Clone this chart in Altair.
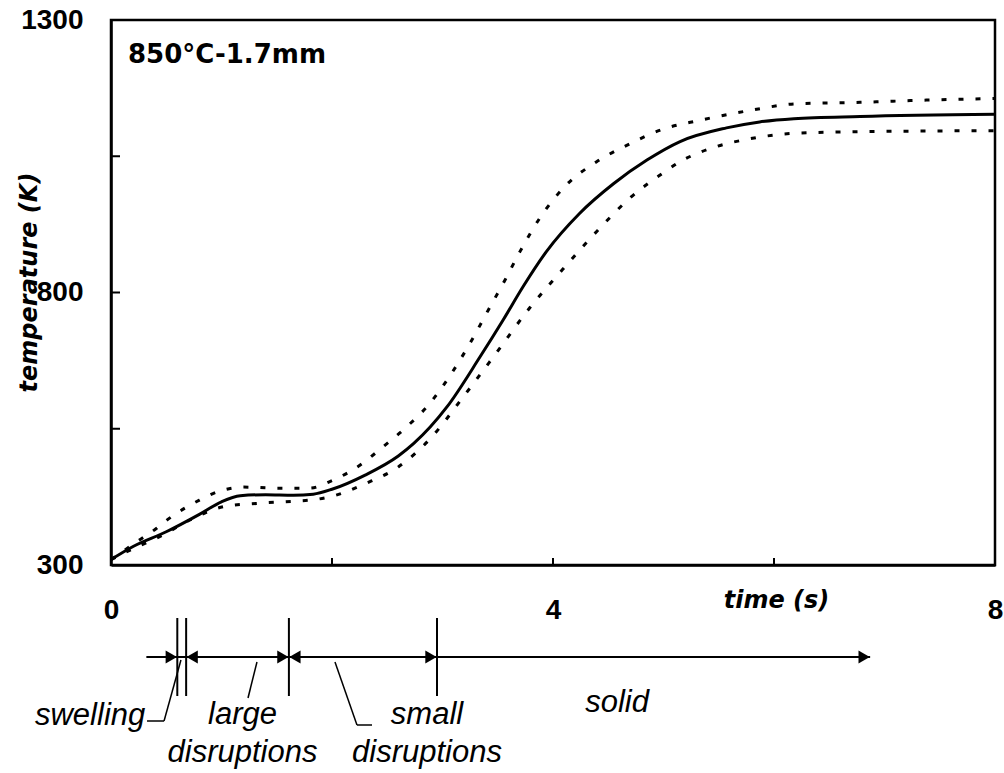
import altair as alt
import pandas as pd

# Mean surface temperature history of the particle (time in s, temperature in K)
mean_time = [0.0, 0.2, 0.5, 0.8, 1.0, 1.17, 1.4, 1.65, 1.83, 2.0, 2.3, 2.6, 2.74,
             3.04, 3.34, 3.55, 3.73, 3.94, 4.24, 4.55, 4.85, 5.15, 5.57, 5.87,
             6.18, 6.78, 8.0]
mean_temp = [310, 334, 361, 393, 416, 427, 429, 428, 430, 439, 465, 500, 523,
             590, 682, 750, 811, 875, 945, 1000, 1043, 1077, 1102, 1113,
             1119, 1123, 1127]

# Upper and lower bounds of the temperature band
upper_time = [0.0, 0.2, 0.41, 0.53, 0.8, 0.99, 1.2, 1.5, 1.8, 1.98, 2.28, 2.45,
              2.645, 2.887, 3.083, 3.249, 3.415, 3.566, 3.701, 3.882, 4.109,
              4.395, 4.667, 5.0, 5.33, 5.81, 6.18, 6.78, 7.38, 8.0]
upper_temp = [310, 338, 367, 386, 419, 436, 443, 441, 441, 453, 487, 515,
              548, 597, 652, 707, 768, 823, 875, 937, 995,
              1040, 1070, 1100, 1116, 1135, 1146, 1149, 1153, 1156]
lower_time = [0.0, 0.2, 0.44, 0.72, 1.02, 1.32, 1.65, 1.8, 1.98, 2.31, 2.6,
              2.89, 3.19, 3.49, 3.79, 4.09, 4.4, 4.7, 5.0, 5.15, 5.45, 5.78,
              6.18, 6.78, 8.0]
lower_temp = [310, 330, 352, 383, 407, 413, 417, 419, 425, 450, 480,
              532, 609, 690, 772, 843, 913, 974, 1020, 1040, 1066, 1082,
              1092, 1095, 1097]

# Tick values
x_labels = [0, 4, 8]
y_labels = [300, 800, 1300]
x_minor = [2, 4, 6]
y_minor = [550, 800, 1050]

# Phase boundaries of the timeline under the plot (s)
phase_edges = [0.60, 0.68, 1.61, 2.95]
timeline_span = [0.32, 6.87]

FONT_NUM = "Liberation Sans"
FONT_TITLE = "DejaVu Sans"

XS = alt.Scale(domain=[0, 8], nice=False, zero=False)
YS = alt.Scale(domain=[300, 1300], nice=False, zero=False)

X_AXIS = alt.Axis(
    values=x_labels, format="d", title="time (s)", ticks=False, tickSize=0, grid=False,
    labelFont=FONT_NUM, labelFontWeight="bold", labelFontSize=28,
    labelColor="black", labelPadding=31, labelFlush=False,
    domainColor="black", domainWidth=2.5,
    titleFont=FONT_TITLE, titleFontStyle="italic", titleFontWeight="bold",
    titleFontSize=24, titleColor="black", titleX=665, titleY=35,
    titleBaseline="middle", titleAlign="center",
)
Y_AXIS = alt.Axis(
    values=y_labels, format="d", title="temperature (K)", ticks=False, tickSize=0, grid=False,
    labelFont=FONT_NUM, labelFontWeight="bold", labelFontSize=28,
    labelColor="black", labelPadding=28, labelFlush=False,
    domainColor="black", domainWidth=2.5,
    titleFont=FONT_TITLE, titleFontStyle="italic", titleFontWeight="bold",
    titleFontSize=24, titleColor="black", titleAngle=270, titleX=-82,
    titleY=262, titleBaseline="middle", titleAlign="center",
)


def xenc(field="time"):
    return alt.X(f"{field}:Q", scale=XS, axis=X_AXIS)


def yenc(field="temperature"):
    return alt.Y(f"{field}:Q", scale=YS, axis=Y_AXIS)


mean_df = pd.DataFrame({"time": mean_time, "temperature": mean_temp})
band_df = pd.concat([
    pd.DataFrame({"time": upper_time, "temperature": upper_temp, "bound": "upper"}),
    pd.DataFrame({"time": lower_time, "temperature": lower_temp, "bound": "lower"}),
])

mean_line = alt.Chart(mean_df).mark_line(
    color="black", strokeWidth=3, interpolate="monotone"
).encode(x=xenc(), y=yenc())

band_lines = alt.Chart(band_df).mark_line(
    color="black", strokeWidth=3, strokeDash=[5, 12], interpolate="monotone"
).encode(x=xenc(), y=yenc(), detail="bound:N")

# Inward-pointing ticks on both axes
x_ticks = alt.Chart(pd.DataFrame({"time": x_minor})).mark_rule(
    color="black", strokeWidth=2
).encode(x=xenc(), y=alt.value(545), y2=alt.value(538))

y_ticks = alt.Chart(pd.DataFrame({"temperature": y_minor})).mark_rule(
    color="black", strokeWidth=2
).encode(y=yenc(), x=alt.value(0), x2=alt.value(9))

title = alt.Chart(pd.DataFrame({"label": ["850°C-1.7mm"]})).mark_text(
    font=FONT_TITLE, fontWeight="bold", fontSize=26, align="left",
    baseline="alphabetic", color="black"
).encode(text="label:N", x=alt.value(17), y=alt.value(43))

# Timeline of break-up regimes below the time axis
timeline = alt.Chart(pd.DataFrame({"time": [timeline_span[0]],
                                   "time_end": [timeline_span[1]]})).mark_rule(
    color="black", strokeWidth=2
).encode(x=xenc(), x2="time_end:Q", y=alt.value(637))

edges = alt.Chart(pd.DataFrame({"time": phase_edges})).mark_rule(
    color="black", strokeWidth=2
).encode(x=xenc(), y=alt.value(598), y2=alt.value(676))

heads_right = alt.Chart(pd.DataFrame({"time": [phase_edges[0], phase_edges[2],
                                              phase_edges[3], timeline_span[1]]})).mark_point(
    shape="triangle-right", filled=True, size=170, color="black", opacity=1,
    xOffset=-6
).encode(x=xenc(), y=alt.value(637))

heads_left = alt.Chart(pd.DataFrame({"time": [phase_edges[1], phase_edges[2]]})).mark_point(
    shape="triangle-left", filled=True, size=170, color="black", opacity=1,
    xOffset=6
).encode(x=xenc(), y=alt.value(637))


def leader(t0, t1, y0, y1):
    return alt.Chart(pd.DataFrame({"time": [t0], "time_end": [t1]})).mark_rule(
        color="black", strokeWidth=1.5
    ).encode(x=xenc(), x2="time_end:Q", y=alt.value(y0), y2=alt.value(y1))


leaders = [
    leader(0.326, 0.48, 701, 701),
    leader(0.48, 0.633, 701, 640),
    leader(1.321, 1.24, 642, 678),
    leader(2.027, 2.226, 642, 705),
    leader(2.226, 2.362, 705, 705),
]


def phase_text(times, texts, y, align):
    return alt.Chart(pd.DataFrame({"time": times, "label": texts})).mark_text(
        font=FONT_NUM, fontStyle="italic", fontSize=31, align=align,
        baseline="alphabetic", color="black"
    ).encode(x=xenc(), text="label:N", y=alt.value(y))


labels = [
    phase_text([0.31], ["swelling"], 705, "right"),
    phase_text([1.19, 2.86], ["large", "small"], 704, "center"),
    phase_text([1.19, 2.86], ["disruptions", "disruptions"], 742, "center"),
    phase_text([4.58], ["solid"], 692, "center"),
]

chart = alt.layer(
    band_lines, mean_line, x_ticks, y_ticks, title,
    timeline, edges, heads_right, heads_left, *leaders, *labels
).properties(
    width=884, height=545,
    autosize=alt.AutoSizeParams(type="none"),
    padding={"left": 111, "top": 20, "right": 9, "bottom": 208},
    background="white",
).configure_view(stroke="black", strokeWidth=2.5)

chart.save("out.html", embed_options={"renderer": "svg", "actions": False})
